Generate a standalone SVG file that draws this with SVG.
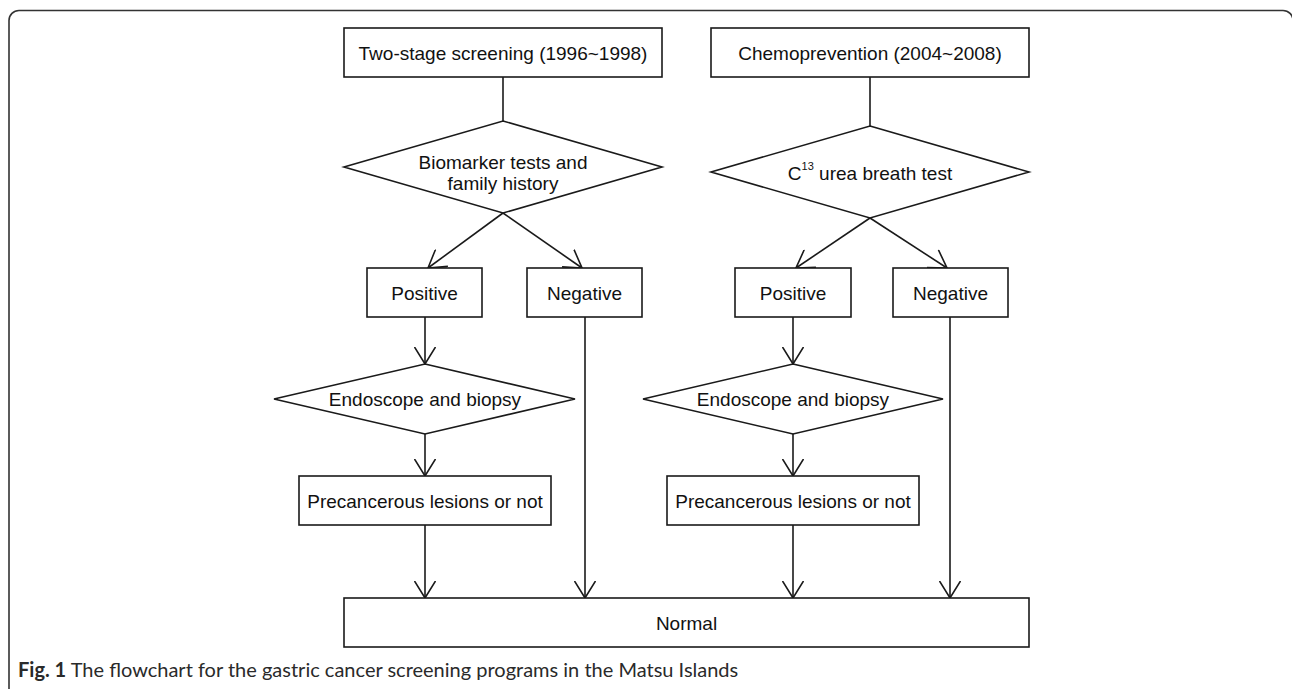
<svg xmlns="http://www.w3.org/2000/svg" width="1292" height="689" viewBox="0 0 1292 689">
<defs>
<style>
.frame{fill:none;stroke:#333;stroke-width:1.6}
.node rect,.node polygon{fill:#fff;stroke:#1a1a1a;stroke-width:1.6}
.node text{font-family:"Liberation Sans",Arial,sans-serif;font-size:19px;fill:#111;text-anchor:middle}
#connectors line{stroke:#1a1a1a;stroke-width:1.6;fill:none}
.arr{marker-end:url(#v)}
.cap{font-family:Lato,"Open Sans",sans-serif;font-size:20px;fill:#2a2a2a}
</style>
<marker id="v" viewBox="0 0 18 22" refX="17.5" refY="11" markerWidth="18" markerHeight="22" markerUnits="userSpaceOnUse" orient="auto">
<path d="M0.5,0.5 L17.5,11 L0.5,21.5" fill="none" stroke="#1a1a1a" stroke-width="1.6"/>
</marker>
</defs>
<rect width="1292" height="689" fill="#fff"/>
<rect class="frame" x="9" y="10.5" width="1284" height="688" rx="10" ry="10"/>
<g id="connectors">
<line x1="503" y1="77" x2="503" y2="121"/>
<line x1="870" y1="77" x2="870" y2="126"/>
<line class="arr" x1="503" y1="213" x2="428" y2="268"/>
<line class="arr" x1="503" y1="213" x2="582" y2="268"/>
<line class="arr" x1="870" y1="218" x2="796" y2="268"/>
<line class="arr" x1="870" y1="218" x2="947" y2="268"/>
<line class="arr" x1="425" y1="317" x2="425" y2="364"/>
<line class="arr" x1="793" y1="317" x2="793" y2="364"/>
<line class="arr" x1="425" y1="434" x2="425" y2="476"/>
<line class="arr" x1="793" y1="434" x2="793" y2="476"/>
<line class="arr" x1="425" y1="525" x2="425" y2="598"/>
<line class="arr" x1="793" y1="525" x2="793" y2="598"/>
<line class="arr" x1="585" y1="317" x2="585" y2="598"/>
<line class="arr" x1="950" y1="317" x2="950" y2="598"/>
</g>
<g id="n-two-stage" class="node"><rect x="344" y="28" width="318" height="49"/><text x="503" y="60">Two-stage screening (1996~1998)</text></g>
<g id="n-chemo" class="node"><rect x="711" y="28" width="318" height="49"/><text x="870" y="60">Chemoprevention (2004~2008)</text></g>
<g id="n-biomarker" class="node"><polygon points="503,121 662,167 503,213 344,167"/><text x="503" y="169">Biomarker tests and</text><text x="503" y="190">family history</text></g>
<g id="n-breath" class="node"><polygon points="870,126 1029,172 870,218 711,172"/><text x="870" y="180">C<tspan font-size="11" dy="-10">13</tspan><tspan dy="10"> urea breath test</tspan></text></g>
<g id="n-pos1" class="node"><rect x="367" y="268" width="115" height="49"/><text x="424.5" y="300">Positive</text></g>
<g id="n-neg1" class="node"><rect x="527" y="268" width="115" height="49"/><text x="584.5" y="300">Negative</text></g>
<g id="n-pos2" class="node"><rect x="735" y="268" width="116" height="49"/><text x="793" y="300">Positive</text></g>
<g id="n-neg2" class="node"><rect x="893" y="268" width="115" height="49"/><text x="950.5" y="300">Negative</text></g>
<g id="n-endo1" class="node"><polygon points="425,364 575,399 425,434 274,399"/><text x="425" y="406">Endoscope and biopsy</text></g>
<g id="n-endo2" class="node"><polygon points="793,364 943,399 793,434 643,399"/><text x="793" y="406">Endoscope and biopsy</text></g>
<g id="n-prec1" class="node"><rect x="299" y="476" width="252" height="49"/><text x="425" y="508">Precancerous lesions or not</text></g>
<g id="n-prec2" class="node"><rect x="667" y="476" width="252" height="49"/><text x="793" y="508">Precancerous lesions or not</text></g>
<g id="n-normal" class="node"><rect x="344" y="598" width="685" height="49"/><text x="686.5" y="630">Normal</text></g>
<text class="cap" x="18" y="677"><tspan font-weight="bold">Fig. 1</tspan> The flowchart for the gastric cancer screening programs in the Matsu Islands</text>
</svg>
